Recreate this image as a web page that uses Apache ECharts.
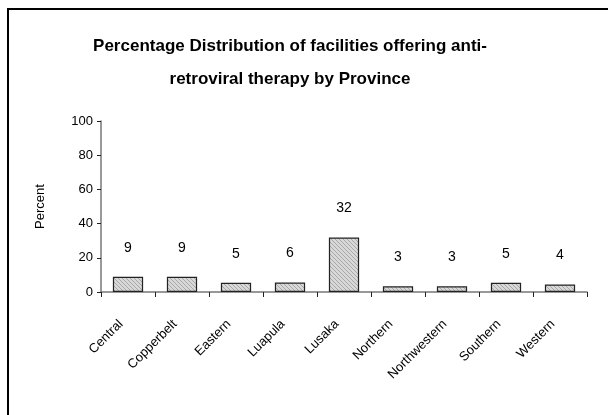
<!DOCTYPE html>
<html><head><meta charset="utf-8">
<script src="https://cdn.jsdelivr.net/npm/echarts@6/dist/echarts.min.js"></script>
<style>html,body{margin:0;padding:0;background:#fff}#c{width:608px;height:415px}</style>
</head><body><div id="c"></div>
<script>
const categories = ['Central','Copperbelt','Eastern','Luapula','Lusaka','Northern','Northwestern','Southern','Western'];
const percentValues = [8.9, 8.9, 5.4, 5.5, 31.9, 3.3, 3.3, 5.4, 4.4];
const yTicks = [0, 20, 40, 60, 80, 100];

// hatch pattern for bars
const pc = document.createElement('canvas');
pc.width = 4; pc.height = 4;
const px = pc.getContext('2d');
px.fillStyle = '#d8d8d8'; px.fillRect(0,0,4,4);
px.fillStyle = '#a8a8a8';
px.fillRect(0,0,1,1); px.fillRect(1,1,1,1); px.fillRect(2,2,1,1); px.fillRect(3,3,1,1);

const chart = echarts.init(document.getElementById('c'), null, {renderer:'canvas'});
const FONT = 'Liberation Sans, Arial, sans-serif';
chart.setOption({
  animation: false,
  title: {
    text: 'Percentage Distribution of facilities offering anti-\nretroviral therapy by Province',
    left: 285, top: 25, textAlign: 'center',
    textStyle: {fontFamily: FONT, fontSize: 17, fontWeight: 'bold', color: '#000', lineHeight: 33}
  },
  graphic: [
    {type:'rect', shape:{x:8, y:9, width:640, height:450}, style:{fill:'none', stroke:'#000', lineWidth:2}}
  ],
  grid: {left: 101, right: 21, top: 121, bottom: 123},
  xAxis: {
    type: 'category', data: categories,
    axisLine: {lineStyle: {color: '#777', width: 1.5}},
    axisTick: {show: true, alignWithLabel: false, length: 5, lineStyle: {color: '#222'}},
    axisLabel: {rotate: 45, interval: 0, margin: 23, padding: [0, 10, 0, 0], fontFamily: FONT, fontSize: 13, color: '#000'}
  },
  yAxis: {
    type: 'value', min: 0, max: 100, interval: 20,
    name: 'Percent', nameLocation: 'middle', nameGap: 54, nameRotate: 90,
    nameTextStyle: {fontFamily: FONT, fontSize: 13, color: '#000'},
    splitLine: {show: false},
    axisLine: {show: true, lineStyle: {color: '#777', width: 1.5}},
    axisTick: {show: true, length: 4, lineStyle: {color: '#222'}},
    axisLabel: {margin: 8, fontFamily: FONT, fontSize: 13, color: '#000',
      formatter: v => yTicks.includes(v) ? String(v) : ''}
  },
  series: [{
    type: 'bar', data: percentValues, barWidth: '56%',
    itemStyle: {color: {image: pc, repeat: 'repeat'}, borderColor: '#222', borderWidth: 1.2},
    label: {show: true, position: 'top', distance: 22, fontFamily: FONT, fontSize: 14, color: '#000',
      formatter: p => String(Math.round(p.value))}
  }]
});
</script></body></html>
